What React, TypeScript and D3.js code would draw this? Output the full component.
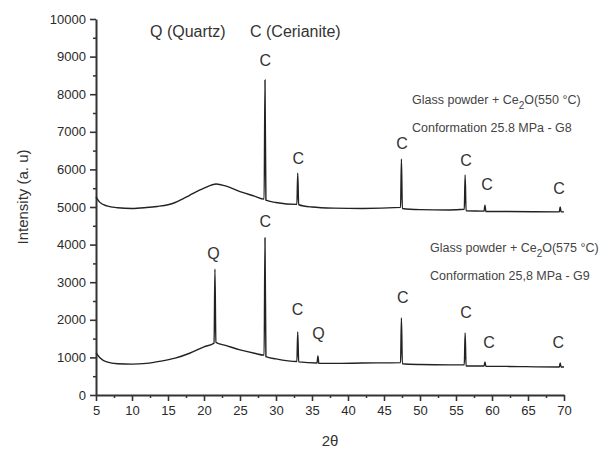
import React, { useEffect, useRef } from 'react';
import * as d3 from 'd3';

// 2θ / intensity pairs
const g8Pattern: [number, number][] = [
  [5, 5270], [5.5, 5130], [6.5, 5030], [8, 4980], [10, 4960], [12, 4985],
  [13.5, 5015], [15, 5060], [16, 5120], [17, 5210], [18, 5310], [20, 5500], [21.7, 5610],
  [23, 5560], [25, 5410], [27, 5290], [28.35, 5210], [28.47, 8380], [28.6, 5180],
  [30, 5120], [32.9, 5070], [33.02, 5900], [33.15, 5060], [35, 5000], [38, 4970],
  [42, 4960], [47.3, 4990], [47.42, 6280], [47.55, 4960], [50, 4930], [54, 4920],
  [56.15, 4940], [56.27, 5850], [56.4, 4900], [58.9, 4890], [59.02, 5050], [59.15, 4880],
  [62, 4880], [69.35, 4870], [69.47, 5000], [69.6, 4870], [70, 4870],
];

const g9Pattern: [number, number][] = [
  [5, 1120], [5.5, 1000], [6.5, 880], [8, 830], [10, 820], [12, 840],
  [14, 900], [16, 980], [18, 1110], [20, 1280], [21.4, 1380], [21.52, 3350],
  [21.65, 1400], [23, 1320], [25, 1200], [27, 1110], [28.35, 1060], [28.47, 4180],
  [28.6, 1020], [30, 960], [32.9, 890], [33.02, 1680], [33.15, 880], [35.7, 850],
  [35.82, 1040], [35.95, 840], [38, 840], [42, 850], [47.3, 860], [47.42, 2050],
  [47.55, 830], [50, 810], [54, 800], [56.15, 800], [56.27, 1650], [56.4, 770],
  [58.9, 770], [59.02, 880], [59.15, 765], [62, 760], [69.35, 745], [69.47, 850],
  [69.6, 745], [70, 745],
];

// phase labels: [2θ, intensity at label, text]
const g8Labels: [number, number, string][] = [
  [28.5, 8750, 'C'], [33.1, 6150, 'C'], [47.5, 6550, 'C'],
  [56.4, 6100, 'C'], [59.3, 5440, 'C'], [69.3, 5350, 'C'],
];
const g9Labels: [number, number, string][] = [
  [21.3, 3630, 'Q'], [28.5, 4460, 'C'], [33.0, 2140, 'C'], [35.9, 1490, 'Q'],
  [47.6, 2450, 'C'], [56.4, 2060, 'C'], [59.6, 1250, 'C'], [69.2, 1250, 'C'],
];

const xTicks = d3.range(5, 71, 5);
const yTicks = d3.range(0, 10001, 1000);

const FONT = 'Arial, "Liberation Sans", sans-serif';

export default function App() {
  const ref = useRef<SVGSVGElement>(null);

  useEffect(() => {
    if (!ref.current) return;
    const svg = d3.select(ref.current);
    svg.selectAll('*').remove();

    const x = d3.scaleLinear().domain([5, 70]).range([96, 564]);
    const y = d3.scaleLinear().domain([0, 10000]).range([395, 19]);

    // minor ticks
    svg.append('g')
      .attr('transform', 'translate(0,395)')
      .call(d3.axisBottom(x).tickValues(d3.range(7.5, 70, 5)).tickSize(3).tickSizeOuter(0).tickFormat(() => ''))
      .call(g => g.select('.domain').remove())
      .selectAll('line').attr('stroke', '#333').attr('stroke-width', 1.5);
    svg.append('g')
      .attr('transform', 'translate(96,0)')
      .call(d3.axisLeft(y).tickValues(d3.range(500, 10000, 1000)).tickSize(3).tickSizeOuter(0).tickFormat(() => ''))
      .call(g => g.select('.domain').remove())
      .selectAll('line').attr('stroke', '#333').attr('stroke-width', 1.5);

    const xAxis = svg.append('g')
      .attr('transform', 'translate(0,395)')
      .call(d3.axisBottom(x).tickValues(xTicks).tickSize(6).tickSizeOuter(0).tickPadding(5));
    const yAxis = svg.append('g')
      .attr('transform', 'translate(96,0)')
      .call(d3.axisLeft(y).tickValues(yTicks).tickSize(6).tickSizeOuter(0).tickPadding(4).tickFormat(d3.format('d')));

    [xAxis, yAxis].forEach(ax => {
      ax.select('.domain').attr('stroke', '#333').attr('stroke-width', 2);
      ax.selectAll('line').attr('stroke', '#333').attr('stroke-width', 1.6);
      ax.selectAll('text').attr('fill', '#2a2a2a').style('font-size', '13px').style('font-family', FONT);
    });

    const line = d3.line<[number, number]>()
      .x(d => x(d[0]))
      .y(d => y(d[1]))
      .curve(d3.curveMonotoneX);

    [g8Pattern, g9Pattern].forEach(p => {
      svg.append('path')
        .datum(p)
        .attr('d', line)
        .attr('fill', 'none')
        .attr('stroke', '#222')
        .attr('stroke-width', 1.4);
    });

    [...g8Labels, ...g9Labels].forEach(([tx, ty, t]) => {
      svg.append('text')
        .attr('x', x(tx))
        .attr('y', y(ty))
        .attr('text-anchor', 'middle')
        .attr('fill', '#333')
        .style('font-size', '16px')
        .style('font-family', FONT)
        .text(t);
    });

    svg.append('text')
      .attr('x', 150).attr('y', 37)
      .attr('fill', '#333').style('font-size', '16px').style('font-family', FONT)
      .text('Q (Quartz)');
    svg.append('text')
      .attr('x', 250).attr('y', 37)
      .attr('fill', '#333').style('font-size', '16px').style('font-family', FONT)
      .text('C (Cerianite)');

    // sample descriptions
    const notes: [number, number, string, string][] = [
      [412, 104, '550', 'Conformation 25.8 MPa - G8'],
      [430, 252, '575', 'Conformation 25,8 MPa - G9'],
    ];
    notes.forEach(([nx, ny, temp, conf]) => {
      const t = svg.append('text')
        .attr('x', nx).attr('y', ny)
        .attr('fill', '#444').style('font-size', '12.5px').style('font-family', FONT);
      t.append('tspan').text('Glass powder + Ce');
      t.append('tspan').attr('dy', 5).style('font-size', '10px').text('2');
      t.append('tspan').attr('dy', -5).text(`O(${temp} °C)`);
      svg.append('text')
        .attr('x', nx).attr('y', ny + 28)
        .attr('fill', '#444').style('font-size', '12.5px').style('font-family', FONT)
        .text(conf);
    });

    svg.append('text')
      .attr('transform', 'translate(28,197) rotate(-90)')
      .attr('text-anchor', 'middle')
      .attr('fill', '#333').style('font-size', '15px').style('font-family', FONT)
      .text('Intensity (a. u)');

    svg.append('text')
      .attr('x', 330).attr('y', 446)
      .attr('text-anchor', 'middle')
      .attr('fill', '#333').style('font-size', '15px').style('font-family', FONT)
      .text('2θ');
  }, []);

  return (
    <svg ref={ref} width={605} height={453}
      style={{ position: 'absolute', left: 0, top: 0, background: '#fff' }} />
  );
}
